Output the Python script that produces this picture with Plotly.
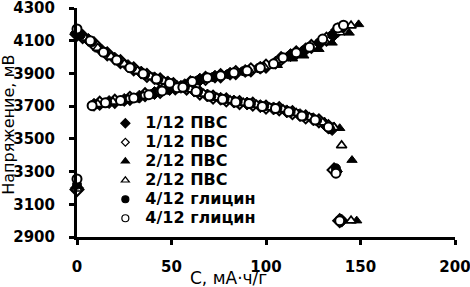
import plotly.graph_objects as go

# Capacity (mA·h/g) and voltage (mV)
# 1/12 PVA, filled diamond
a_ch_c = [0, 9, 17, 25, 33, 41, 49, 57, 65, 73, 81, 89, 97, 105, 113, 121, 129, 136, 140]
a_ch_v = [3200, 3708, 3725, 3738, 3758, 3780, 3805, 3828, 3862, 3880, 3898, 3915, 3935, 3965, 4012, 4048, 4092, 4138, 4175]
a_dc_c = [0, 6, 13, 20, 27, 34, 41, 48, 55, 62, 69, 76, 83, 90, 97, 104, 111, 118, 125, 131, 135, 137, 140]
a_dc_v = [4150, 4105, 4040, 3990, 3945, 3905, 3870, 3845, 3818, 3795, 3765, 3745, 3728, 3716, 3700, 3686, 3668, 3645, 3620, 3590, 3560, 3300, 3000]
# 1/12 PVA, open diamond
b_ch_c = [0, 12, 20, 28, 36, 44, 52, 60, 68, 76, 84, 92, 100, 108, 116, 124, 132, 138]
b_ch_v = [3190, 3718, 3730, 3748, 3770, 3790, 3812, 3842, 3870, 3886, 3905, 3922, 3945, 3990, 4026, 4065, 4110, 4165]
b_dc_c = [0, 3, 9, 16, 23, 30, 37, 44, 51, 58, 65, 72, 79, 86, 93, 100, 107, 114, 121, 128, 133, 136, 139]
b_dc_v = [4140, 4125, 4080, 4020, 3972, 3928, 3888, 3860, 3832, 3810, 3780, 3755, 3738, 3722, 3712, 3694, 3684, 3660, 3634, 3610, 3575, 3310, 3000]
# 2/12 PVA, filled triangle
c_ch_c = [0, 10, 18, 26, 34, 42, 50, 58, 66, 74, 82, 90, 98, 106, 114, 120, 128, 135, 144, 149]
c_ch_v = [3210, 3700, 3718, 3732, 3755, 3778, 3800, 3825, 3858, 3874, 3890, 3905, 3925, 3950, 3990, 4008, 4048, 4087, 4148, 4200]
c_dc_c = [0, 5, 12, 19, 26, 33, 40, 47, 54, 61, 68, 75, 82, 89, 96, 103, 110, 117, 124, 131, 136, 139, 145.5, 148]
c_dc_v = [4145, 4110, 4045, 3998, 3955, 3912, 3878, 3850, 3822, 3800, 3770, 3750, 3732, 3720, 3705, 3690, 3676, 3655, 3630, 3605, 3575, 3565, 3370, 3000]
# 2/12 PVA, open triangle
d_ch_c = [0, 11, 19, 27, 35, 43, 51, 59, 67, 75, 83, 91, 99, 107, 115, 123, 131, 139, 145]
d_ch_v = [3195, 3712, 3726, 3742, 3762, 3786, 3808, 3836, 3866, 3884, 3903, 3918, 3940, 3980, 4020, 4058, 4100, 4150, 4192]
d_dc_c = [0, 4, 11, 18, 25, 32, 39, 46, 53, 60, 67, 74, 81, 88, 95, 102, 109, 116, 123, 130, 136, 140, 145]
d_dc_v = [4155, 4118, 4055, 4002, 3958, 3915, 3880, 3852, 3825, 3802, 3775, 3752, 3735, 3720, 3708, 3692, 3680, 3658, 3632, 3600, 3570, 3460, 3000]
# 4/12 glycine, filled circle
e_ch_c = [0, 8, 16, 24, 32, 40, 48, 56, 64, 72, 80, 88, 96, 104, 112, 120, 128, 135, 140]
e_ch_v = [3220, 3705, 3722, 3734, 3752, 3776, 3800, 3825, 3858, 3878, 3896, 3914, 3932, 3960, 4005, 4042, 4088, 4135, 4180]
e_dc_c = [0, 2, 8, 15, 22, 29, 36, 43, 50, 57, 64, 71, 78, 85, 92, 99, 106, 113, 120, 127, 134, 137, 140]
e_dc_v = [4150, 4135, 4092, 4030, 3978, 3932, 3892, 3862, 3836, 3812, 3788, 3758, 3742, 3726, 3714, 3698, 3686, 3664, 3638, 3612, 3560, 3320, 3000]
# 4/12 glycine, open circle
f_ch_c = [0, 8, 15, 23, 30, 38, 45, 53, 61, 69, 76, 83, 90, 97, 104, 109, 116, 123, 130, 138, 141]
f_ch_v = [3255, 3703, 3720, 3735, 3750, 3770, 3793, 3812, 3850, 3874, 3886, 3904, 3916, 3935, 3959, 3996, 4026, 4060, 4110, 4178, 4195]
f_dc_c = [0, 7, 14, 21, 28, 35, 42, 49, 56, 63, 70, 77, 84, 91, 98, 105, 112, 119, 126, 133, 137, 139]
f_dc_v = [4172, 4100, 4030, 3982, 3935, 3898, 3866, 3840, 3815, 3790, 3762, 3742, 3725, 3716, 3698, 3686, 3665, 3640, 3615, 3572, 3290, 3000]

labels = ["1/12 ПВС", "1/12 ПВС", "2/12 ПВС", "2/12 ПВС", "4/12 глицин", "4/12 глицин"]
x_ticks = [0, 50, 100, 150, 200]
y_ticks = [2900, 3100, 3300, 3500, 3700, 3900, 4100, 4300]

series = [
    (a_ch_c + a_dc_c, a_ch_v + a_dc_v),
    (b_ch_c + b_dc_c, b_ch_v + b_dc_v),
    (c_ch_c + c_dc_c, c_ch_v + c_dc_v),
    (d_ch_c + d_dc_c, d_ch_v + d_dc_v),
    (e_ch_c + e_dc_c, e_ch_v + e_dc_v),
    (f_ch_c + f_dc_c, f_ch_v + f_dc_v),
]
styles = [
    dict(symbol="diamond", size=10, color="black", line=dict(color="black", width=1)),
    dict(symbol="diamond", size=10, color="white", line=dict(color="black", width=2)),
    dict(symbol="triangle-up", size=9, color="black", line=dict(color="black", width=1)),
    dict(symbol="triangle-up", size=9, color="white", line=dict(color="black", width=1.6)),
    dict(symbol="circle", size=9, color="black", line=dict(color="black", width=1)),
    dict(symbol="circle", size=9, color="white", line=dict(color="black", width=2)),
]
legend_sizes = [7, 6, 7, 7, 7, 7]

fig = go.Figure()
for (xs, ys), st in zip(series, styles):
    fig.add_trace(go.Scatter(x=xs, y=ys, mode="markers", marker=st,
                             showlegend=False, cliponaxis=False))
for lab, st, ls in zip(labels, styles, legend_sizes):
    m = dict(st)
    m["size"] = ls
    m["line"] = dict(color="black", width=1.2)
    fig.add_trace(go.Scatter(x=[None], y=[None], mode="markers", marker=m,
                             name='<span style="font-size:16px">' + lab + '</span>',
                             showlegend=True))

tick_font = dict(family="DejaVu Sans", size=15, color="black", weight="bold")
fig.update_layout(
    width=470, height=287,
    margin=dict(l=77, r=15, t=8, b=50, autoexpand=False),
    paper_bgcolor="white", plot_bgcolor="white",
    showlegend=True,
    legend=dict(x=0.075, y=0.56, xanchor="left", yanchor="top",
                font=dict(family="DejaVu Sans", size=12, color="black", weight="bold"),
                tracegroupgap=0, bgcolor="rgba(0,0,0,0)", itemsizing="trace"),
    xaxis=dict(range=[0, 200], tickvals=x_ticks, ticktext=[str(v) for v in x_ticks],
               showline=True, linecolor="black", linewidth=3, ticks="outside",
               ticklen=5, tickwidth=3, tickcolor="black", showgrid=False,
               zeroline=False, tickfont=tick_font, ticklabelstandoff=9,
               automargin=False, ticklabeloverflow="allow"),
    yaxis=dict(range=[2900, 4300], tickvals=y_ticks, ticktext=[str(v) for v in y_ticks],
               showline=True, linecolor="black", linewidth=3, ticks="outside",
               ticklen=5, tickwidth=3, tickcolor="black", showgrid=False,
               zeroline=False, tickfont=tick_font, ticklabelstandoff=11,
               automargin=False, ticklabeloverflow="allow"),
    annotations=[
        dict(text="C, мА·ч/г", xref="paper", yref="paper", x=0.4, y=-0.18,
             xanchor="center", yanchor="middle", showarrow=False,
             font=dict(family="DejaVu Sans", size=17, color="black")),
        dict(text="Напряжение, мВ", xref="paper", yref="paper", x=-0.18, y=0.49,
             xanchor="center", yanchor="middle", showarrow=False, textangle=-90,
             font=dict(family="DejaVu Sans", size=16, color="black")),
    ],
)
# remove the browser's default 8 px page margin so the figure fills the window
fig.write_html("out.html", config={"displayModeBar": False},
               post_script="document.body.style.margin='0';")
